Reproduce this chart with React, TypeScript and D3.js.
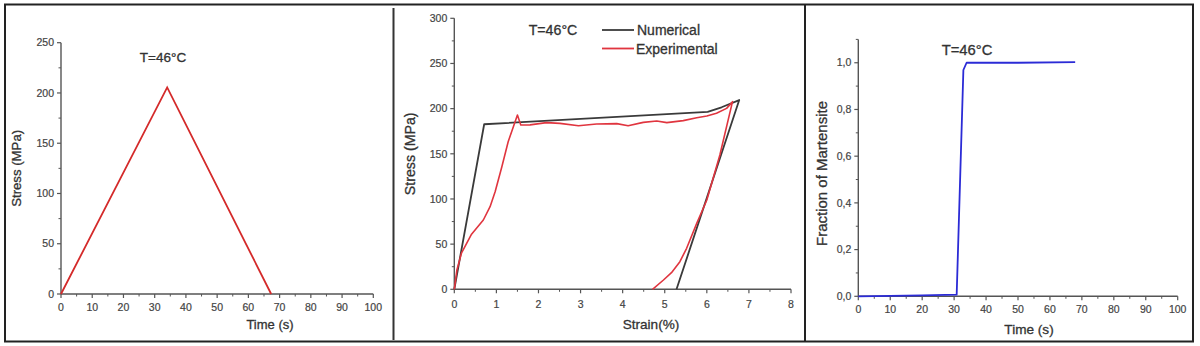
import React from "react";
import * as d3 from "d3";

// ---------- DATA ----------
// Panel 1: applied stress vs time
const loadTime = [0, 34, 67.3];
const loadStress = [0, 205.5, 0];

// Panel 2: stress-strain loops
const numStrain = [0, 0.71, 6.02, 6.35, 6.77, 5.28];
const numStress = [0, 182.7, 196.3, 201.5, 209.5, 0];

const expStrain = [
  0, 0.06, 0.17, 0.41, 0.69, 0.85, 0.97, 1.13, 1.28, 1.5, 1.58, 1.8, 2.19, 2.51, 2.95,
  3.38, 3.86, 4.13, 4.49, 4.81, 5.05, 5.44, 5.76, 6.0, 6.23, 6.47, 6.61, 6.31, 6.0, 5.76,
  5.52, 5.36, 5.16, 4.97, 4.71,
];
const expStress = [
  0, 21, 40, 61, 76.7, 91.5, 108, 135.7, 163.4, 193, 181.9, 182, 184.5, 183.7, 181, 183,
  183.4, 181, 184.8, 186.3, 184.5, 186.7, 190, 191.8, 194.8, 200.3, 207.7, 148.7, 98.9,
  73, 45.4, 30.6, 18.4, 10.3, 0,
];

// Panel 3: martensite fraction vs time
const martTime = [0, 5, 20, 30.8, 32.9, 33.9, 50, 67.9];
const martFraction = [0, 0.001, 0.004, 0.007, 0.969, 1.0, 1.0, 1.003];

// Tick values
const timeTicks = [0, 10, 20, 30, 40, 50, 60, 70, 80, 90, 100];
const stressTicks1 = [0, 50, 100, 150, 200, 250];
const strainTicks = [0, 1, 2, 3, 4, 5, 6, 7, 8];
const stressTicks2 = [0, 50, 100, 150, 200, 250, 300];
const fracTicks = [0, 0.2, 0.4, 0.6, 0.8, 1.0];

const FONT = "Arial, 'Liberation Sans', sans-serif";
const AXIS = "#555";
const TXT = "#333";

type AxisProps = {
  x: d3.ScaleLinear<number, number>;
  y: d3.ScaleLinear<number, number>;
  xTicks: number[];
  yTicks: number[];
  xMinor: number[];
  yMinor: number[];
  xFmt: (v: number) => string;
  yFmt: (v: number) => string;
  xLabelBase: number;
};

function Axes({ x, y, xTicks, yTicks, xMinor, yMinor, xFmt, yFmt, xLabelBase }: AxisProps) {
  const [x0, x1] = x.range();
  const [y0, y1] = y.range();
  return (
    <g>
      <line x1={x0} x2={x1} y1={y0} y2={y0} stroke={AXIS} strokeWidth={1.4} />
      <line x1={x0} x2={x0} y1={y0} y2={y1} stroke={AXIS} strokeWidth={1.4} />
      {xMinor.map((v, i) => (
        <line key={"xm" + i} x1={x(v)} x2={x(v)} y1={y0} y2={y0 + 2.5} stroke={AXIS} strokeWidth={1} />
      ))}
      {yMinor.map((v, i) => (
        <line key={"ym" + i} x1={x0} x2={x0 - 2.5} y1={y(v)} y2={y(v)} stroke={AXIS} strokeWidth={1} />
      ))}
      {xTicks.map((v, i) => (
        <g key={"xt" + i}>
          <line x1={x(v)} x2={x(v)} y1={y0} y2={y0 + 4} stroke={AXIS} strokeWidth={1.2} />
          <text
            x={x(v)}
            y={xLabelBase}
            textAnchor="middle"
            fontSize={10.5}
            fill="#444"
            stroke="#444"
            strokeWidth={0.2}
            fontFamily={FONT}
          >
            {xFmt(v)}
          </text>
        </g>
      ))}
      {yTicks.map((v, i) => (
        <g key={"yt" + i}>
          <line x1={x0} x2={x0 - 4} y1={y(v)} y2={y(v)} stroke={AXIS} strokeWidth={1.2} />
          <text
            x={x0 - 7}
            y={y(v) + 3.7}
            textAnchor="end"
            fontSize={10.5}
            fill="#444"
            stroke="#444"
            strokeWidth={0.2}
            fontFamily={FONT}
          >
            {yFmt(v)}
          </text>
        </g>
      ))}
    </g>
  );
}

const range = (a: number, b: number, s: number) => d3.range(a, b + s / 2, s);

export default function App() {
  // Panel 1 scales
  const x1 = d3.scaleLinear().domain([0, 100]).range([61, 373.3]);
  const y1 = d3.scaleLinear().domain([0, 250]).range([294, 42.7]);
  // Panel 2 scales
  const x2 = d3.scaleLinear().domain([0, 8]).range([454.3, 791]);
  const y2 = d3.scaleLinear().domain([0, 300]).range([289.3, 18.3]);
  // Panel 3 scales
  const x3 = d3.scaleLinear().domain([0, 100]).range([858.3, 1177.7]);
  const y3 = d3.scaleLinear().domain([0, 1.1]).range([296.3, 39.4]);

  const line1 = d3
    .line<number>()
    .x((_, i) => x1(loadTime[i]))
    .y((d) => y1(d));
  const lineNum = d3
    .line<number>()
    .x((_, i) => x2(numStrain[i]))
    .y((d) => y2(d));
  const lineExp = d3
    .line<number>()
    .x((_, i) => x2(expStrain[i]))
    .y((d) => y2(d));
  const line3 = d3
    .line<number>()
    .x((_, i) => x3(martTime[i]))
    .y((d) => y3(d));

  const intFmt = (v: number) => String(v);
  const commaFmt = (v: number) => v.toFixed(1).replace(".", ",");

  const title = { fill: TXT, stroke: TXT, strokeWidth: 0.3 };

  return (
    <svg
      width={1200}
      height={346}
      style={{ position: "absolute", left: 0, top: 0, background: "#fff" }}
      fontFamily={FONT}
    >
      <rect x={0} y={0} width={1200} height={346} fill="#fff" />
      {/* Frame */}
      <rect x={5} y={4.5} width={1188} height={337} fill="none" stroke="#222" strokeWidth={2} />
      <line x1={393.5} x2={393.5} y1={8} y2={340} stroke="#333" strokeWidth={2} />
      <line x1={805} x2={805} y1={5} y2={341} stroke="#222" strokeWidth={2} />

      {/* Panel 1 */}
      <Axes
        x={x1}
        y={y1}
        xTicks={timeTicks}
        yTicks={stressTicks1}
        xMinor={range(5, 95, 10)}
        yMinor={range(25, 225, 50)}
        xFmt={intFmt}
        yFmt={intFmt}
        xLabelBase={311}
      />
      <path d={line1(loadStress) || ""} fill="none" stroke="#d42a2a" strokeWidth={1.8} />
      <text x={163} y={62} textAnchor="middle" fontSize={13.5} {...title}>
        T=46°C
      </text>
      <text x={270} y={329} textAnchor="middle" fontSize={13} {...title}>
        Time (s)
      </text>
      <text
        transform={`translate(20.5,${(42.7 + 294) / 2}) rotate(-90)`}
        textAnchor="middle"
        fontSize={13.2}
        {...title}
      >
        Stress (MPa)
      </text>

      {/* Panel 2 */}
      <Axes
        x={x2}
        y={y2}
        xTicks={strainTicks}
        yTicks={stressTicks2}
        xMinor={range(0.5, 7.5, 1)}
        yMinor={range(25, 275, 50)}
        xFmt={intFmt}
        yFmt={intFmt}
        xLabelBase={308}
      />
      <path d={lineNum(numStress) || ""} fill="none" stroke="#3a3a3a" strokeWidth={1.8} strokeLinejoin="round" />
      <path d={lineExp(expStress) || ""} fill="none" stroke="#e0353f" strokeWidth={1.6} strokeLinejoin="round" />
      <text x={553} y={35} textAnchor="middle" fontSize={14.2} {...title}>
        T=46°C
      </text>
      <line x1={602} x2={634} y1={30} y2={30} stroke="#3a3a3a" strokeWidth={1.8} />
      <text x={637} y={35} fontSize={14} {...title}>
        Numerical
      </text>
      <line x1={602} x2={634} y1={48.5} y2={48.5} stroke="#e0353f" strokeWidth={1.8} />
      <text x={636} y={53.5} fontSize={14} {...title}>
        Experimental
      </text>
      <text x={651} y={329} textAnchor="middle" fontSize={13.6} {...title}>
        Strain(%)
      </text>
      <text
        transform={`translate(415,${(18.3 + 289.3) / 2}) rotate(-90)`}
        textAnchor="middle"
        fontSize={14.2}
        {...title}
      >
        Stress (MPa)
      </text>

      {/* Panel 3 */}
      <Axes
        x={x3}
        y={y3}
        xTicks={timeTicks}
        yTicks={fracTicks}
        xMinor={range(5, 95, 10)}
        yMinor={range(0.1, 1.1, 0.2)}
        xFmt={intFmt}
        yFmt={commaFmt}
        xLabelBase={313}
      />
      <path d={line3(martFraction) || ""} fill="none" stroke="#2b2bd6" strokeWidth={1.8} strokeLinejoin="round" />
      <text x={967} y={54.5} textAnchor="middle" fontSize={14.8} {...title}>
        T=46°C
      </text>
      <text x={1029} y={334} textAnchor="middle" fontSize={13.6} {...title}>
        Time (s)
      </text>
      <text
        transform={`translate(827,173.5) rotate(-90)`}
        textAnchor="middle"
        fontSize={15}
        {...title}
      >
        Fraction of Martensite
      </text>
    </svg>
  );
}
